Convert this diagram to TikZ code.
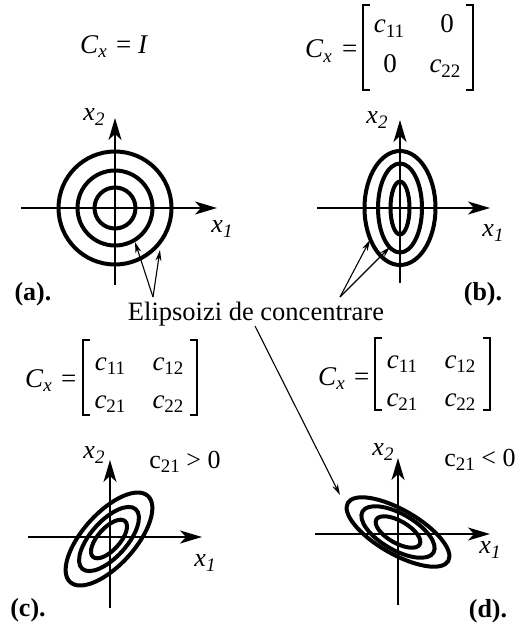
\documentclass[tikz,border=0pt]{standalone}
\usepackage{fontspec}
\setmainfont{Liberation Serif}
\usetikzlibrary{arrows.meta}
\newcommand\fsz[1]{\fontsize{#1}{#1}\selectfont}
\newcommand\lowsub[1]{\raisebox{-4.5pt}{\fsz{19}#1}}
\tikzset{
 axis/.style={line width=1.5pt, -{Stealth[length=22pt,width=13pt,inset=6pt]}},
 ell/.style={line width=4pt},
 ptr/.style={line width=1.1pt, -{Stealth[length=11pt,width=6pt]}},
 br/.style={line width=1.3pt},
 txt/.style={inner sep=0pt, font=\fsz{27}},
 lbl/.style={inner sep=0pt, font=\fsz{26}\bfseries},
 axl/.style={inner sep=0pt, font=\fsz{26}\itshape},
}
\begin{document}
\begin{tikzpicture}[x=1pt,y=1pt]
\useasboundingbox (0,0) rectangle (520,-626);
% ---------- (a)
\node[txt, anchor=base west] (ca) at (80,-53) {\textit{C}\lowsub{\textit{x}}};
\node[txt, anchor=base west] (eqa) at (116,-53) {= \textit{I}};
\draw[axis] (115,-285) -- (115,-118);
\draw[axis] (21,-208) -- (217,-208);
\draw[ell] (115,-208) circle[radius=56.5];
\draw[ell] (115,-208) circle[radius=37.5];
\draw[ell] (115,-208) circle[radius=20.5];
\node[axl] (x2a) at (94,-117) {x\lowsub{2}};
\node[axl] (x1a) at (222,-229) {x\lowsub{1}};
\node[lbl] (la) at (33,-294) {(a).};
% ---------- (b)
\node[txt, anchor=base west] (cb) at (305,-58) {\textit{C}\lowsub{\textit{x}}};
\node[txt, anchor=base west] (eqb) at (342,-58) {=};
\draw[br] (370,-5) -- (363,-5) -- (363,-90) -- (370,-90);
\draw[br] (466,-5) -- (473,-5) -- (473,-90) -- (466,-90);
\node[txt, anchor=base] (b11) at (389,-33) {\textit{c}\lowsub{11}};
\node[txt, anchor=base] (b12) at (447,-33) {0};
\node[txt, anchor=base] (b21) at (390,-73) {0};
\node[txt, anchor=base] (b22) at (445,-73) {\textit{c}\lowsub{22}};
\draw[axis] (400,-283) -- (400,-120);
\draw[axis] (317,-208) -- (490,-208);
\draw[ell] (400,-208) ellipse[x radius=35.5, y radius=57];
\draw[ell] (400,-208) ellipse[x radius=22, y radius=44.5];
\draw[ell] (400,-208) ellipse[x radius=9.5, y radius=26.5];
\node[axl] (x2b) at (377,-120) {x\lowsub{2}};
\node[axl] (x1b) at (493,-233) {x\lowsub{1}};
\node[lbl] (lb) at (483,-294) {(b).};
% ---------- text and pointers
\node[inner sep=0pt, font=\fsz{26.5}, anchor=base] (el) at (256,-320) {Elipsoizi de concentrare};
\coordinate (sa) at (153,-297);
\coordinate (sb) at (340,-297);
\coordinate (sd) at (255,-326);
\coordinate (ta1) at (135,-242);
\coordinate (ta2) at (160,-250);
\coordinate (tb1) at (370,-240);
\coordinate (tb2) at (390,-247);
\coordinate (td) at (340,-495);
\draw[ptr] (sa) -- (ta1);
\draw[ptr] (sa) -- (ta2);
\draw[ptr] (sb) -- (tb1);
\draw[ptr] (sb) -- (tb2);
\draw[ptr] (sd) -- (td);
% ---------- (c)
\node[txt, anchor=base west] (cc) at (25,-387) {\textit{C}\lowsub{\textit{x}}};
\node[txt, anchor=base west] (eqc) at (61,-387) {=};
\draw[br] (90,-340) -- (83,-340) -- (83,-415) -- (90,-415);
\draw[br] (190,-340) -- (197,-340) -- (197,-415) -- (190,-415);
\node[txt, anchor=base] (c11) at (110,-370) {\textit{c}\lowsub{11}};
\node[txt, anchor=base] (c12) at (168,-370) {\textit{c}\lowsub{12}};
\node[txt, anchor=base] (c21) at (110,-408) {\textit{c}\lowsub{21}};
\node[txt, anchor=base] (c22) at (168,-408) {\textit{c}\lowsub{22}};
\node[inner sep=0pt, font=\fsz{26}, anchor=base] (condc) at (185,-468) {c\lowsub{21} > 0};
\draw[axis] (110,-608) -- (110,-460);
\draw[axis] (28,-537) -- (202,-537);
\draw[ell, rotate around={48:(109,-539)}] (109,-539) ellipse[x radius=58, y radius=26];
\draw[ell, rotate around={48:(109,-539)}] (109,-539) ellipse[x radius=40, y radius=18];
\draw[ell, rotate around={48:(109,-539)}] (109,-539) ellipse[x radius=24, y radius=11];
\node[axl] (x2c) at (94,-455) {x\lowsub{2}};
\node[axl] (x1c) at (205,-563) {x\lowsub{1}};
\node[lbl] (lc) at (28,-610) {(c).};
% ---------- (d)
\node[txt, anchor=base west] (cd) at (318,-385) {\textit{C}\lowsub{\textit{x}}};
\node[txt, anchor=base west] (eqd) at (354,-385) {=};
\draw[br] (382,-338) -- (375,-338) -- (375,-410) -- (382,-410);
\draw[br] (483,-338) -- (490,-338) -- (490,-410) -- (483,-410);
\node[txt, anchor=base] (d11) at (402,-368) {\textit{c}\lowsub{11}};
\node[txt, anchor=base] (d12) at (460,-368) {\textit{c}\lowsub{12}};
\node[txt, anchor=base] (d21) at (402,-406) {\textit{c}\lowsub{21}};
\node[txt, anchor=base] (d22) at (460,-406) {\textit{c}\lowsub{22}};
\node[inner sep=0pt, font=\fsz{26}, anchor=base] (condd) at (480,-466) {c\lowsub{21} < 0};
\draw[axis] (398,-605) -- (398,-458);
\draw[axis] (315,-534) -- (490,-534);
\draw[ell, rotate around={-30:(398,-532)}] (398,-532) ellipse[x radius=58, y radius=22];
\draw[ell, rotate around={-30:(398,-532)}] (398,-532) ellipse[x radius=41, y radius=18];
\draw[ell, rotate around={-30:(398,-532)}] (398,-532) ellipse[x radius=25, y radius=11];
\node[axl] (x2d) at (383,-452) {x\lowsub{2}};
\node[axl] (x1d) at (490,-550) {x\lowsub{1}};
\node[lbl] (ld) at (488,-611) {(d).};
\end{tikzpicture}
\end{document}
